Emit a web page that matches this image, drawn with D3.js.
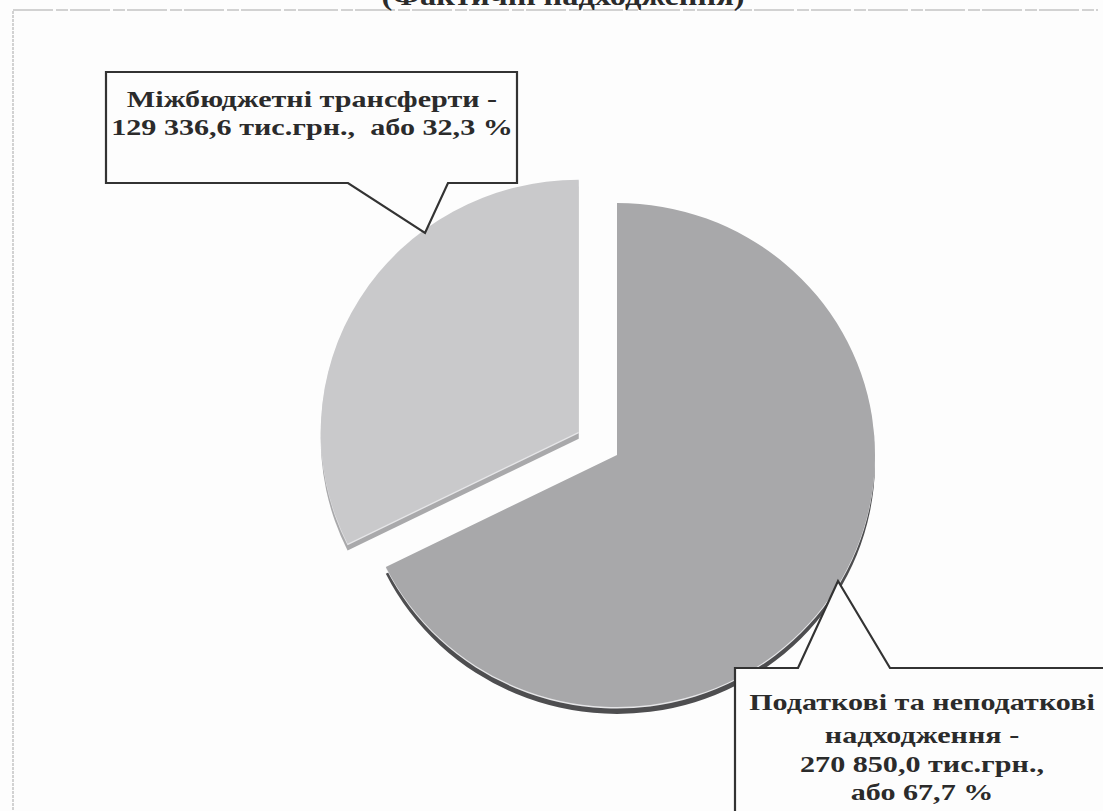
<!DOCTYPE html>
<html>
<head>
<meta charset="utf-8">
<script src="https://cdn.jsdelivr.net/npm/d3@7"></script>
<style>
  body { margin: 0; background: #fdfdfd; }
  svg { display: block; }
  .lbl { font-family: "Liberation Serif", "Times New Roman", serif; font-weight: bold; fill: #2b2b2b; }
</style>
</head>
<body>
<div class="chart"></div>
<script>
// data
var categories = ["Податкові та неподаткові надходження", "Міжбюджетні трансферти"];
var values = [270850.0, 129336.6];
var shares = [67.7, 32.3];
var labelLines = [
  ["Податкові та неподаткові", "надходження -", "270 850,0 тис.грн.,", "або 67,7 %"],
  ["Міжбюджетні трансферти -", "129 336,6 тис.грн.,  або 32,3 %"]
];
var titleText = "(Фактичні надходження)";

var svgWidth = 1103;
var svgHeight = 811;

var svg = d3.select(".chart")
  .append("svg")
  .attr("width", svgWidth)
  .attr("height", svgHeight);

// faint frame of the scanned page
svg.append("line")
  .attr("x1", 13).attr("y1", 10).attr("x2", 1098).attr("y2", 10)
  .attr("stroke", "#c4c4c4").attr("stroke-width", 1.5).attr("stroke-dasharray", "40 3 12 2");
svg.append("line")
  .attr("x1", 13).attr("y1", 11).attr("x2", 13).attr("y2", 811)
  .attr("stroke", "#c4c4c4").attr("stroke-width", 1.5).attr("stroke-dasharray", "3 1");

// title, clipped by the top of the page like in the scan
svg.append("g")
  .attr("transform", "translate(563, 5) scale(1.2, 1)")
  .append("text")
  .attr("class", "lbl")
  .attr("x", 0)
  .attr("y", 0)
  .attr("text-anchor", "middle")
  .style("font-size", "27px")
  .text(titleText);

var cx = 617, cy = 455;
var radius = 258;
var tilt = 0.977;
var depth = 7;
var explode = [0, 45];
var topColors = ["#a8a8aa", "#c9c9cb"];
var sideColors = ["#4e4e50", "#a9a9ab"];

var pie = d3.pie().sort(null).value(function(d) { return d; });
var arcs = pie(values);

var arc = d3.arc().innerRadius(0).outerRadius(radius);

function offset(d, i) {
  var mid = (d.startAngle + d.endAngle) / 2;
  return [Math.sin(mid) * explode[i], -Math.cos(mid) * explode[i]];
}

var pieGroup = svg.append("g")
  .attr("transform", `translate(${cx}, ${cy}) scale(1, ${tilt})`);

// side of the 3D slices
pieGroup.selectAll("path.side")
  .data(arcs)
  .enter()
  .append("path")
  .attr("class", "side")
  .attr("d", arc)
  .attr("fill", function(d, i) { return sideColors[i]; })
  .attr("transform", function(d, i) {
    var o = offset(d, i);
    return `translate(${o[0]}, ${o[1] + depth})`;
  });

// thin light rim between top and side
pieGroup.selectAll("path.rim")
  .data(arcs)
  .enter()
  .append("path")
  .attr("class", "rim")
  .attr("d", arc)
  .attr("fill", "#e6e6e8")
  .attr("transform", function(d, i) {
    var o = offset(d, i);
    return `translate(${o[0]}, ${o[1] + 1.5})`;
  });

pieGroup.selectAll("path.top")
  .data(arcs)
  .enter()
  .append("path")
  .attr("class", "top")
  .attr("d", arc)
  .attr("fill", function(d, i) { return topColors[i]; })
  .attr("transform", function(d, i) {
    var o = offset(d, i);
    return `translate(${o[0]}, ${o[1]})`;
  });

// callout boxes
var callouts = [
  { box: [735, 668, 1110, 820], base: [798, 890], tip: [838, 581], side: "top", cxText: 922, lines: [710, 743, 772, 800] },
  { box: [106, 72, 517, 183], base: [448, 348], tip: [425, 233], side: "bottom", cxText: 312, lines: [107, 135] }
];
var labelSize = 23;
var stretch = 1.31;

callouts.forEach(function(c, i) {
  var b = c.box;
  var p;
  if (c.side === "top") {
    p = `M${b[0]},${b[1]} H${c.base[0]} L${c.tip[0]},${c.tip[1]} L${c.base[1]},${b[1]} H${b[2]} V${b[3]} H${b[0]} Z`;
  } else {
    p = `M${b[0]},${b[1]} H${b[2]} V${b[3]} H${c.base[0]} L${c.tip[0]},${c.tip[1]} L${c.base[1]},${b[3]} H${b[0]} Z`;
  }
  svg.append("path")
    .attr("d", p)
    .attr("fill", "#fdfdfd")
    .attr("stroke", "#333")
    .attr("stroke-width", 2.2)
    .attr("stroke-linejoin", "miter");

  svg.append("g")
    .attr("transform", `translate(${c.cxText}, 0) scale(${stretch}, 1)`)
    .append("text")
    .attr("class", "lbl")
    .attr("text-anchor", "middle")
    .style("font-size", labelSize + "px")
    .selectAll("tspan")
    .data(labelLines[i])
    .enter()
    .append("tspan")
    .attr("x", 0)
    .attr("y", function(d, j) { return c.lines[j]; })
    .style("white-space", "pre")
    .text(function(d) { return d; });
});
</script>
</body>
</html>
